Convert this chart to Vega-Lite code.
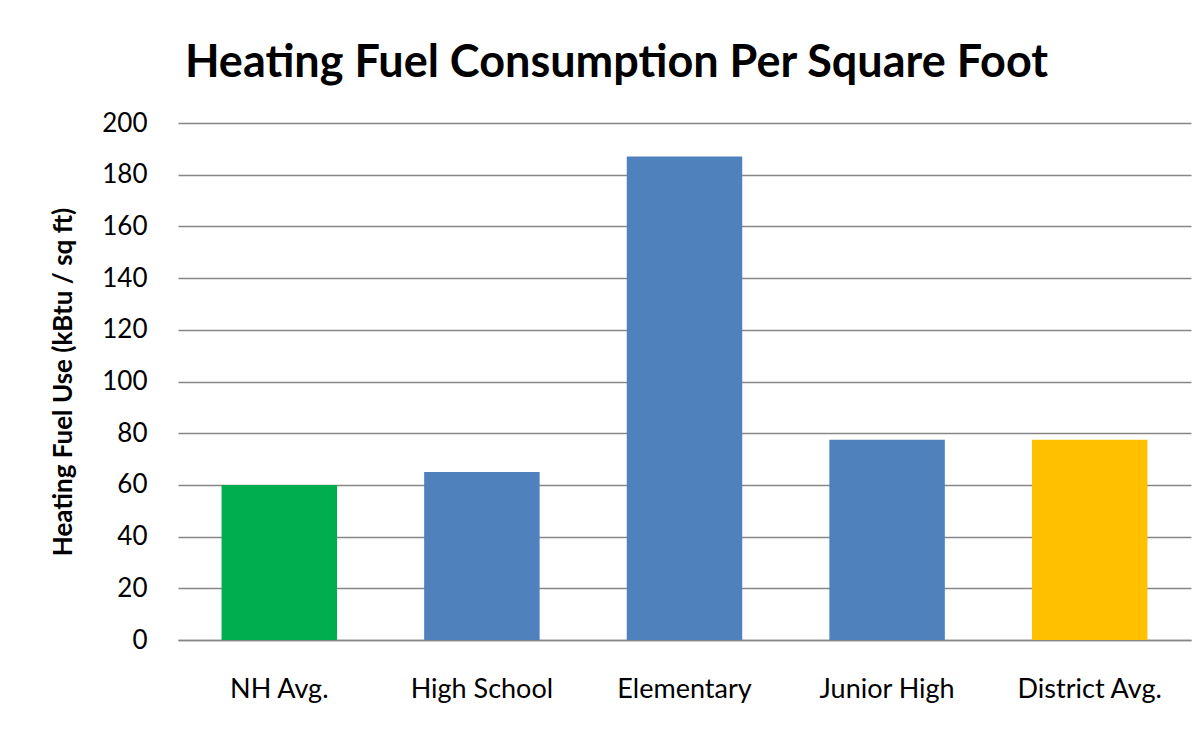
{
  "$schema": "https://vega.github.io/schema/vega-lite/v6.json",
  "width": 1013,
  "height": 517,
  "autosize": {"type": "none"},
  "padding": {"left": 178, "top": 123, "right": 12, "bottom": 94},
  "background": "white",
  "config": {
    "view": {"stroke": null},
    "font": "Lato"
  },
  "title": {
    "text": "Heating Fuel Consumption Per Square Foot",
    "font": "Lato",
    "fontSize": 45,
    "fontWeight": "bold",
    "color": "black",
    "anchor": "middle",
    "frame": "group",
    "dx": -68,
    "offset": 24
  },
  "data": {
    "values": [
      {"building": "NH Avg.", "use": 60, "kind": "State"},
      {"building": "High School", "use": 65, "kind": "School"},
      {"building": "Elementary", "use": 187, "kind": "School"},
      {"building": "Junior High", "use": 77.5, "kind": "School"},
      {"building": "District Avg.", "use": 77.5, "kind": "District"}
    ]
  },
  "mark": {"type": "bar"},
  "encoding": {
    "x": {
      "field": "building",
      "type": "nominal",
      "sort": null,
      "scale": {"paddingInner": 0.43, "paddingOuter": 0.215},
      "axis": {
        "title": null,
        "labelAngle": 0,
        "labelFontSize": 27,
        "labelColor": "black",
        "labelPadding": 36,
        "ticks": false,
        "domainColor": "#868686",
        "domainWidth": 1.5
      }
    },
    "y": {
      "field": "use",
      "type": "quantitative",
      "scale": {"domain": [0, 200]},
      "axis": {
        "title": "Heating Fuel Use (kBtu / sq ft)",
        "titleFontSize": 26,
        "titleFontWeight": "bold",
        "titleColor": "black",
        "titlePadding": 25,
        "values": [0, 20, 40, 60, 80, 100, 120, 140, 160, 180, 200],
        "labelFontSize": 26,
        "labelColor": "black",
        "labelPadding": 31,
        "ticks": false,
        "domain": false,
        "gridColor": "#868686",
        "gridWidth": 1.5
      }
    },
    "color": {
      "field": "kind",
      "type": "nominal",
      "scale": {"domain": ["State", "School", "District"], "range": ["#00AD4F", "#4F81BD", "#FFC000"]},
      "legend": null
    }
  }
}
